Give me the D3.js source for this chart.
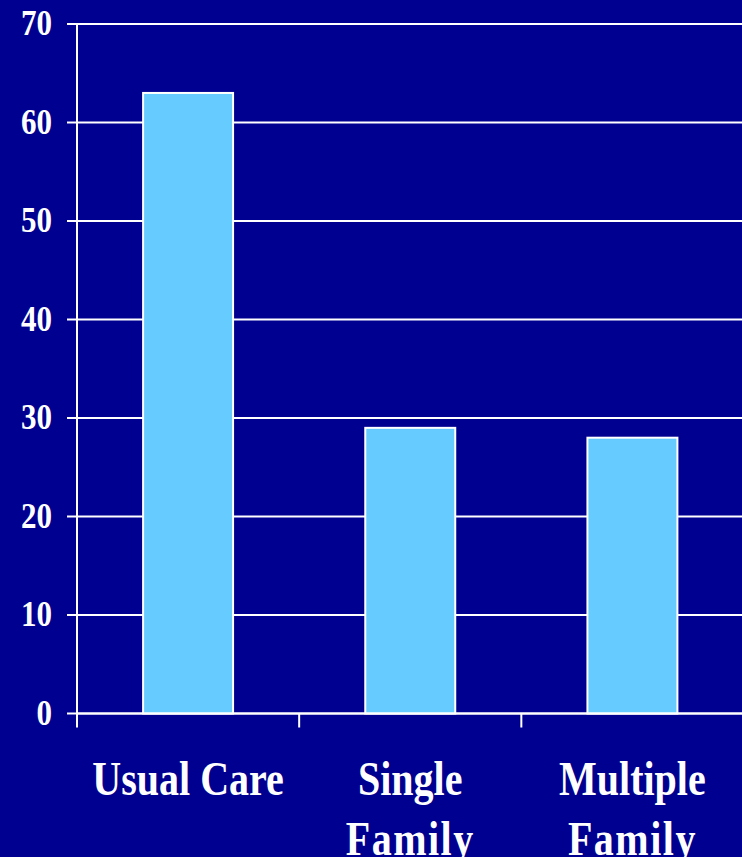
<!DOCTYPE html>
<html>
<head>
<meta charset="utf-8">
<script src="https://cdn.jsdelivr.net/npm/d3@7"></script>
<style>
  html, body { margin: 0; padding: 0; background: #000090; }
  svg { display: block; }
</style>
</head>
<body>
<svg id="chart" width="742" height="857"></svg>
<script>
const categories = [["Usual Care"], ["Single", "Family"], ["Multiple", "Family"]];
const values = [63, 29, 28];
const yTicks = [0, 10, 20, 30, 40, 50, 60, 70];

const W = 742, H = 857;
const svg = d3.select("#chart");
svg.append("rect").attr("width", W).attr("height", H).attr("fill", "#000090");

const x0 = 77, x1 = 743.5, yTop = 24, yBot = 713.5;
const x = d3.scaleBand().domain(d3.range(categories.length)).range([x0, x1]).padding(0);
const y = d3.scaleLinear().domain([0, 70]).range([yBot, yTop]);

const fontFam = "'Liberation Serif', 'Times New Roman', serif";

// gridlines + y ticks
const g = svg.append("g");
g.selectAll("line.grid").data(yTicks).join("line")
  .attr("x1", x0 - 10).attr("x2", W)
  .attr("y1", d => y(d)).attr("y2", d => y(d))
  .attr("stroke", "#ffffff").attr("stroke-width", 2);

g.selectAll("text.ylab").data(yTicks).join("text")
  .attr("transform", d => `translate(52,${y(d) + 11}) scale(1,1.17)`)
  .attr("text-anchor", "end")
  .attr("fill", "#ffffff")
  .attr("font-family", fontFam).attr("font-weight", "bold").attr("font-size", 31)
  .text(d => d);

// bars
const bw = x.bandwidth() * 0.405;
svg.selectAll("rect.bar").data(values).join("rect")
  .attr("x", (d, i) => x(i) + x.bandwidth() / 2 - bw / 2)
  .attr("width", bw)
  .attr("y", d => y(d))
  .attr("height", d => y(0) - y(d))
  .attr("fill", "#66CCFF")
  .attr("stroke", "#ffffff").attr("stroke-width", 2);

// y axis line
svg.append("line").attr("x1", x0).attr("x2", x0).attr("y1", yTop).attr("y2", yBot + 14)
  .attr("stroke", "#ffffff").attr("stroke-width", 2);
// x axis line
svg.append("line").attr("x1", x0).attr("x2", W).attr("y1", yBot).attr("y2", yBot)
  .attr("stroke", "#ffffff").attr("stroke-width", 2);
// x ticks at band boundaries
svg.selectAll("line.xt").data(d3.range(1, categories.length)).join("line")
  .attr("x1", d => x(d)).attr("x2", d => x(d))
  .attr("y1", yBot).attr("y2", yBot + 14)
  .attr("stroke", "#ffffff").attr("stroke-width", 2);

// x labels
const lab = svg.selectAll("g.xlab").data(categories).join("g")
  .attr("transform", (d, i) => `translate(${x(i) + x.bandwidth() / 2},0)`);
lab.selectAll("text").data(d => d).join("text")
  .attr("transform", (d, j) => `translate(0,${795 + j * 60}) scale(1,1.2)`)
  .attr("text-anchor", "middle")
  .attr("fill", "#ffffff")
  .attr("font-family", fontFam).attr("font-weight", "bold").attr("font-size", 40)
  .attr("letter-spacing", (d, j) => j === 1 ? 1.5 : 0)
  .text(d => d);
</script>
</body>
</html>
